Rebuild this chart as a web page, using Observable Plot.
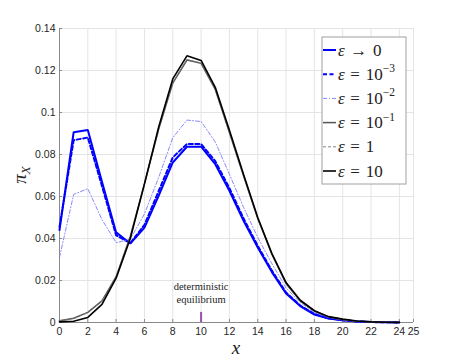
<!DOCTYPE html>
<html><head><meta charset="utf-8">
<script src="https://cdn.jsdelivr.net/npm/d3@7"></script>
<script src="https://cdn.jsdelivr.net/npm/@observablehq/plot@0.6"></script>
<style>
body{margin:0;background:#fff;}
#chart{position:relative;width:457px;height:362px;}
.serif-label, .serif-label tspan{font-family:"Liberation Serif", "DejaVu Serif", serif !important;}
</style>
</head><body><div id="chart"></div>
<script>
const xValues = [0,1,2,3,4,5,6,7,8,9,10,11,12,13,14,15,16,17,18,19,20,21,22,23,24];
const epsToZero = [0.044,0.0906,0.0917,0.067,0.0429,0.0376,0.0452,0.0603,0.0762,0.0837,0.0837,0.0754,0.0627,0.0484,0.0357,0.024,0.0138,0.0078,0.0038,0.0019,0.0011,0.0005,0.0002,0.0001,0.00005];
const epsMinus3 = [0.0455,0.0868,0.0881,0.065,0.0415,0.0378,0.0465,0.0625,0.0786,0.085,0.085,0.0768,0.064,0.0495,0.0365,0.0247,0.0143,0.0081,0.0041,0.002,0.0011,0.0005,0.0002,0.0001,0.00005];
const epsMinus2 = [0.031,0.061,0.0637,0.049,0.038,0.0397,0.0517,0.069,0.088,0.0964,0.0957,0.086,0.0706,0.0548,0.0405,0.028,0.0165,0.0095,0.0048,0.0024,0.0012,0.0005,0.0002,0.0001,0.00005];
const epsMinus1 = [0.0008,0.002,0.0048,0.0103,0.0218,0.041,0.066,0.092,0.114,0.125,0.1234,0.111,0.0905,0.0698,0.0495,0.0325,0.0185,0.0103,0.0055,0.0027,0.0014,0.0006,0.0003,0.0001,0.00005];
const epsOne = [0.0008,0.0019,0.0047,0.0102,0.0217,0.041,0.066,0.092,0.1142,0.1252,0.1236,0.1112,0.0907,0.07,0.0497,0.0326,0.0186,0.0104,0.0055,0.0027,0.0014,0.0006,0.0003,0.0001,0.00005];
const epsTen = [0.0003,0.0006,0.0024,0.0086,0.0211,0.04,0.066,0.093,0.116,0.127,0.1248,0.112,0.0915,0.0705,0.05,0.0328,0.019,0.0106,0.0056,0.0028,0.0016,0.0007,0.0003,0.0001,0.00005];
const xTicks = [0,2,4,6,8,10,12,14,16,18,20,22,24,25];
const yTicks = [0,0.02,0.04,0.06,0.08,0.1,0.12,0.14];
const yTickLabels = ["0","0.02","0.04","0.06","0.08","0.1","0.12","0.14"];
const equilibriumX = [10];
const equilibriumLabel = "deterministic\nequilibrium";

const sp = "\u2004";
const series = [
  {key:"0", base:"ε", rel:sp+"→"+sp+"0", sup:"", values:epsToZero, stroke:"#0000ff", width:2, dash:null},
  {key:"-3", base:"ε", rel:sp+"="+sp+"10", sup:"−3", values:epsMinus3, stroke:"#0000ff", width:2, dash:"4,2.5"},
  {key:"-2", base:"ε", rel:sp+"="+sp+"10", sup:"−2", values:epsMinus2, stroke:"#7b7bff", width:0.9, dash:"4,2,1,2"},
  {key:"-1", base:"ε", rel:sp+"="+sp+"10", sup:"−1", values:epsMinus1, stroke:"#555555", width:1.5, dash:null},
  {key:"1", base:"ε", rel:sp+"="+sp+"1", sup:"", values:epsOne, stroke:"#777777", width:0.9, dash:"3,2"},
  {key:"10", base:"ε", rel:sp+"="+sp+"10", sup:"", values:epsTen, stroke:"#000000", width:1.6, dash:null}
];
const rows = series.flatMap(s => s.values.map((v,i) => ({x:xValues[i], y:v, key:s.key})));

const plot = Plot.plot({
  width:457, height:362,
  marginLeft:59, marginRight:44, marginTop:28, marginBottom:40,
  style:{fontFamily:"'Liberation Sans', Arial, sans-serif", fontSize:"10.5px", color:"#262626", background:"#fff"},
  x:{domain:[0,25], label:null},
  y:{domain:[0,0.14], label:null},
  marks:[
    Plot.gridX(xTicks, {stroke:"#e4e4e4", strokeOpacity:1}),
    Plot.gridY(yTicks, {stroke:"#e4e4e4", strokeOpacity:1}),
    Plot.axisX({ticks:xTicks, tickFormat:d=>String(d), tickSize:-3, tickPadding:8, stroke:"#8a8a8a", fill:"#262626", label:null}),
    Plot.axisY({ticks:yTicks, tickFormat:(d,i)=>yTickLabels[yTicks.indexOf(d)], tickSize:-3, tickPadding:7, stroke:"#8a8a8a", fill:"#262626", label:null}),
    Plot.ruleX([0], {stroke:"#8a8a8a"}),
    Plot.ruleY([0], {stroke:"#8a8a8a"}),
    Plot.ruleX(equilibriumX, {y1:0, y2:0.0048, stroke:"#9a4fb3", strokeWidth:2}),
    Plot.text(equilibriumX, {x:d=>d, y:0.0142, text:()=>equilibriumLabel, lineHeight:1.2, fontSize:10.5, fill:"#222"}),
    ...series.map(s => Plot.line(rows.filter(r => r.key === s.key), {x:"x", y:"y", stroke:s.stroke, strokeWidth:s.width, strokeDasharray:s.dash, strokeLinejoin:"miter"}))
  ]
});
document.getElementById("chart").appendChild(plot);

const svg = d3.select(plot);
svg.selectAll("text").filter(function(){ return this.textContent.indexOf("deterministic") >= 0; })
  .classed("serif-label", true).attr("font-family","Liberation Serif");
// axis titles
svg.append("text").attr("x",236).attr("y",354).attr("text-anchor","middle")
  .attr("font-family","'Liberation Serif', serif").attr("font-style","italic").attr("font-size",19).attr("fill","#222").text("x");
const yl = svg.append("text").attr("transform","translate(26,175) rotate(-90)").attr("text-anchor","middle")
  .attr("font-family","'Liberation Serif', serif").attr("font-size",19).attr("fill","#222");
yl.append("tspan").attr("font-style","italic").text("π");
yl.append("tspan").attr("font-style","italic").attr("font-size",13).attr("dy",4).text("X");

// legend
const lg = svg.append("g");
lg.append("rect").attr("x",322).attr("y",37).attr("width",84).attr("height",147)
  .attr("fill","#fff").attr("stroke","#a0a0a0").attr("stroke-width",1);
series.forEach((s,i) => {
  const cy = 50 + i*24.2;
  lg.append("line").attr("x1",323).attr("x2",336).attr("y1",cy).attr("y2",cy)
    .attr("stroke",s.stroke).attr("stroke-width",s.width).attr("stroke-dasharray",s.dash);
  const t = lg.append("text").attr("x",338).attr("y",cy+5.5).attr("text-anchor","start")
    .attr("font-family","'Liberation Serif', serif").attr("font-size",17).attr("fill","#222");
  t.append("tspan").attr("font-style","italic").text(s.base);
  t.append("tspan").text(s.rel);
  if (s.sup) t.append("tspan").attr("font-size",11.5).attr("dy",-7.5).text(s.sup);
});
</script>
</body></html>
